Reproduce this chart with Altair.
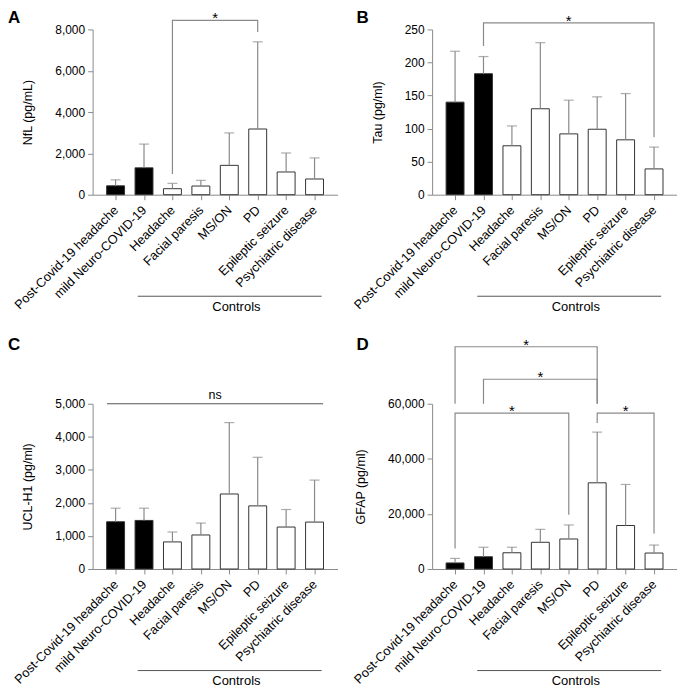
import json
import altair as alt
import pandas as pd

# ---------------- data ----------------
groups = ["Post-Covid-19 headache", "mild Neuro-COVID-19", "Headache", "Facial paresis",
          "MS/ON", "PD", "Epileptic seizure", "Psychiatric disease"]
kind = ["covid", "covid", "control", "control", "control", "control", "control", "control"]

nfl_mean = [430, 1300, 290, 420, 1420, 3180, 1100, 760]
nfl_top = [720, 2450, 550, 695, 2990, 7400, 2020, 1780]

tau_mean = [140, 183, 74, 130, 92, 99, 83, 39]
tau_top = [217, 209, 104, 230, 143, 148, 153, 72]

uch_mean = [1430, 1470, 820, 1030, 2270, 1910, 1270, 1420]
uch_top = [1840, 1840, 1120, 1390, 4430, 3380, 1800, 2690]

gfap_mean = [2200, 4450, 5900, 9700, 10900, 31300, 15800, 5800]
gfap_top = [3850, 7900, 7900, 14400, 16000, 49700, 30700, 8700]

# brackets: (from group index, to group index, left leg end, bar top level, right leg end, label)
nfl_brackets = [(2, 5, 1000, 8440, 7870, "*")]
tau_brackets = [(1, 7, 225, 260, 87, "*")]
uch_brackets = []
gfap_brackets = [(0, 5, 60000, 80700, 60000, "*"),
                 (1, 5, 60000, 68900, 60000, "*"),
                 (0, 4, 7470, 56630, 19730, "*"),
                 (5, 7, 53030, 56630, 12880, "*")]
# "ns" line spanning all groups in panel C
uch_ns = (-0.3, 7.3, 5000, "ns")

controls_span = (0.78, 7.25)
controls_label_pos = 4.25

W, H = 246, 166
FONT = "Liberation Sans"
GRAY = "#8a8a8a"
label_expr = "[" + ",".join(json.dumps(g) for g in groups) + "][datum.value]"
XDOM = [-0.633, 7.633]


def panel(letter, ytitle, mean, top, ymax, ystep, brackets, ns=None, letter_dx=-85, letter_up=19):
    df = pd.DataFrame({"idx": list(range(len(groups))), "group": groups, "kind": kind,
                       "mean": mean, "top": top})
    xs = alt.Scale(domain=XDOM, nice=False, zero=False)
    ys = alt.Scale(domain=[0, ymax], nice=False)
    xaxis = alt.Axis(values=list(range(len(groups))), labelExpr=label_expr, labelAngle=315,
                     labelAlign="right", labelBaseline="middle", labelPadding=8,
                     labelFontSize=12.8, labelOverlap=False, labelLimit=300, labelFont=FONT,
                     labelColor="black", tickSize=5, tickColor=GRAY, domainColor=GRAY,
                     grid=False, title=None)
    yaxis = alt.Axis(values=list(range(0, ymax + 1, ystep)), labelExpr="format(datum.value, ',')",
                     tickSize=5, tickColor=GRAY, domainColor=GRAY, labelFontSize=12,
                     labelFont=FONT, labelColor="black", labelPadding=3, grid=False, title=ytitle,
                     titleFont=FONT, titleFontSize=12.5, titleFontWeight="normal",
                     titleColor="black", titlePadding=20)

    def X(f):
        return alt.X(f, scale=xs, axis=xaxis)

    def Y(f):
        return alt.Y(f, scale=ys, axis=yaxis)

    base = alt.Chart(df)
    bars = base.mark_bar(width=18, stroke="#333333", strokeWidth=1).encode(
        x=X("idx:Q"), y=Y("mean:Q"),
        fill=alt.Fill("kind:N", scale=alt.Scale(domain=["covid", "control"], range=["black", "white"]),
                      legend=None),
    )
    err = base.mark_rule(color=GRAY, strokeWidth=1.2).encode(
        x=X("idx:Q"), y=Y("mean:Q"), y2="top:Q")
    cap = base.mark_tick(orient="horizontal", size=10, thickness=1.2, color=GRAY).encode(
        x=X("idx:Q"), y=Y("top:Q"))
    layers = [bars, err, cap]

    rows, stars = [], []
    for k, (a, b, lb, tp, rb, lab) in enumerate(brackets):
        for o, (xx, yy) in enumerate([(a, lb), (a, tp), (b, tp), (b, rb)]):
            rows.append({"id": k, "o": o, "x": xx, "y": yy})
        stars.append({"x": (a + b) / 2, "y": tp, "t": lab})
    if rows:
        bdf = pd.DataFrame(rows)
        layers.append(alt.Chart(bdf).mark_line(color=GRAY, strokeWidth=1.2).encode(
            x=X("x:Q"), y=Y("y:Q"), detail="id:N", order="o:Q"))
    if stars:
        sdf = pd.DataFrame(stars)
        layers.append(alt.Chart(sdf).mark_text(font=FONT, fontSize=15, baseline="middle",
                                               dy=-2, color="black").encode(
            x=X("x:Q"), y=Y("y:Q"), text="t:N"))
    if ns is not None:
        ndf = pd.DataFrame({"x": [ns[0]], "x2": [ns[1]], "xc": [(ns[0] + ns[1]) / 2],
                            "y": [ns[2]], "t": [ns[3]]})
        layers.append(alt.Chart(ndf).mark_rule(color="#555555", strokeWidth=1.2).encode(
            x=X("x:Q"), x2="x2:Q", y=Y("y:Q")))
        layers.append(alt.Chart(ndf).mark_text(font=FONT, fontSize=12.5, baseline="alphabetic",
                                               dy=-5, color="black").encode(
            x=X("xc:Q"), y=Y("y:Q"), text="t:N"))

    cdf = pd.DataFrame({"x": [controls_span[0]], "x2": [controls_span[1]],
                        "xc": [controls_label_pos], "t": ["Controls"]})
    layers.append(alt.Chart(cdf).mark_rule(color="#555555", strokeWidth=1).encode(
        x=X("x:Q"), x2="x2:Q", y=alt.value(H + 102)))
    layers.append(alt.Chart(cdf).mark_text(font=FONT, fontSize=13, baseline="middle",
                                           color="black").encode(
        x=X("xc:Q"), y=alt.value(H + 113), text="t:N"))

    # panel letter
    ldf = pd.DataFrame({"t": [letter]})
    layers.append(alt.Chart(ldf).mark_text(font=FONT, fontSize=17, fontWeight="bold",
                                           baseline="top", align="left",
                                           color="black").encode(
        x=alt.value(letter_dx), y=alt.value(-letter_up), text="t:N"))

    return alt.layer(*layers).properties(width=W, height=H)


pA = panel("A", "NfL (pg/mL)", nfl_mean, nfl_top, 8000, 2000, nfl_brackets)
pB = panel("B", "Tau (pg/ml)", tau_mean, tau_top, 250, 50, tau_brackets, letter_dx=-76)
pC = panel("C", "UCL-H1 (pg/ml)", uch_mean, uch_top, 5000, 1000, uch_brackets, ns=uch_ns,
           letter_up=67)
pD = panel("D", "GFAP (pg/ml)", gfap_mean, gfap_top, 60000, 20000, gfap_brackets,
           letter_dx=-76, letter_up=67)

chart = alt.concat(pA, pB, pC, pD, columns=2, spacing={"row": 210, "column": 95},
                   bounds="flush").properties(padding=0).configure_view(stroke=None)

chart.save("out.html", embed_options={"renderer": "svg", "actions": False})
